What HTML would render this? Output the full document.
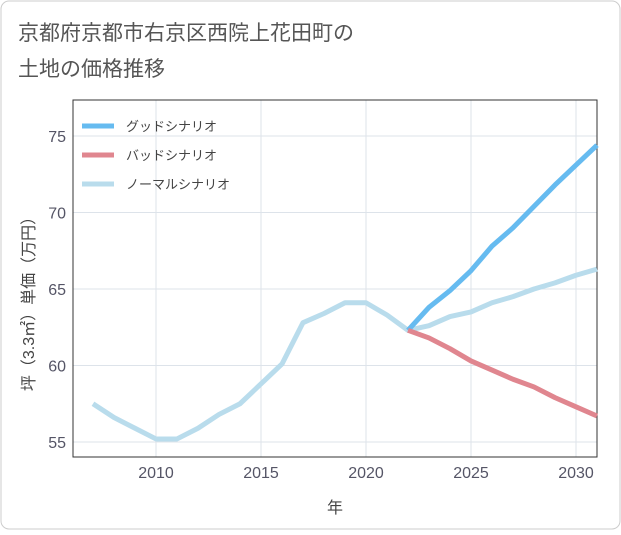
<!DOCTYPE html>
<html><head><meta charset="utf-8">
<style>
body{margin:0;background:#fff;}
svg text{font-family:"Liberation Sans","Noto Sans CJK JP",sans-serif;}
</style></head>
<body>
<svg id="chart" width="621" height="530" xmlns="http://www.w3.org/2000/svg">
<rect x="1" y="1" width="619" height="528" rx="8" fill="#fff" stroke="#ccc"/>
<text x="18" y="40" font-size="21" fill="#555">京都府京都市右京区西院上花田町の</text>
<text x="18" y="76" font-size="21" fill="#555">土地の価格推移</text>
<g id="plot"></g>
</svg>
<script>
const years=[2007,2008,2009,2010,2011,2012,2013,2014,2015,2016,2017,2018,2019,2020,2021,2022,2023,2024,2025,2026,2027,2028,2029,2030,2031];
const normal=[57.5,56.6,55.9,55.2,55.2,55.9,56.8,57.5,58.8,60.1,62.8,63.4,64.1,64.1,63.3,62.3,62.6,63.2,63.5,64.1,64.5,65.0,65.4,65.9,66.3];
const goodYears=[2022,2023,2024,2025,2026,2027,2028,2029,2030,2031];
const good=[62.3,63.8,64.9,66.2,67.8,69.0,70.4,71.8,73.1,74.4];
const bad=[62.3,61.8,61.1,60.3,59.7,59.1,58.6,57.9,57.3,56.7];
const xTicks=[2010,2015,2020,2025,2030];
const yTicks=[55,60,65,70,75];
const L=73,R=597,T=100,B=457;
const x=v=>156+(v-2010)*21;
const y=v=>136+(75-v)*15.3;
const ns="http://www.w3.org/2000/svg";
const g=document.getElementById('plot');
function mk(t,a,txt){const e=document.createElementNS(ns,t);for(const k in a)e.setAttribute(k,a[k]);if(txt!==undefined)e.textContent=txt;g.appendChild(e);return e;}
xTicks.forEach(t=>{
 const l=mk('line',{x1:x(t),x2:x(t),y1:T,y2:B,stroke:'#dde3ea'});
 
 
 const tx=mk('text',{x:x(t),y:478,'font-size':16,fill:'#556','text-anchor':'middle'},t);
 
 
});
yTicks.forEach(t=>{
 const l=mk('line',{x1:L,x2:R,y1:y(t),y2:y(t),stroke:'#dde3ea'});
 
 
 const tx=mk('text',{x:66,y:y(t)+6,'font-size':16,fill:'#556','text-anchor':'end'},t);
 
 
});
const fr=mk('rect',{x:L,y:T,width:R-L,height:B-T,fill:'none',stroke:'#333','stroke-width':1});


function line(xs,vs,c,n){const p=mk('polyline',{points:xs.map((v,i)=>x(v)+','+y(vs[i])).join(' '),fill:'none',stroke:c,'stroke-width':5,'stroke-linejoin':'round'});
 
 }
line(years,normal,'#b9dcec','normal-scenario-line');
line(goodYears,good,'#66bbf0','good-scenario-line');
line(goodYears,bad,'#e0868f','bad-scenario-line');
[['グッドシナリオ','#66bbf0'],['バッドシナリオ','#e0868f'],['ノーマルシナリオ','#b9dcec']].forEach((d,i)=>{
 const yy=126+i*29;
 const l=mk('line',{x1:82,x2:114,y1:yy,y2:yy,stroke:d[1],'stroke-width':5});
 
 
 const t=mk('text',{x:126,y:yy+5,'font-size':13,fill:'#444'},d[0]);
 
 
});
const xt=mk('text',{x:335,y:513,'font-size':16,fill:'#444','text-anchor':'middle'},'年');


const yt=mk('text',{x:0,y:0,'font-size':16,fill:'#444','text-anchor':'middle',transform:'translate(34,300) rotate(-90)'},'坪（3.3㎡）単価（万円）');


</script>
</body></html>
